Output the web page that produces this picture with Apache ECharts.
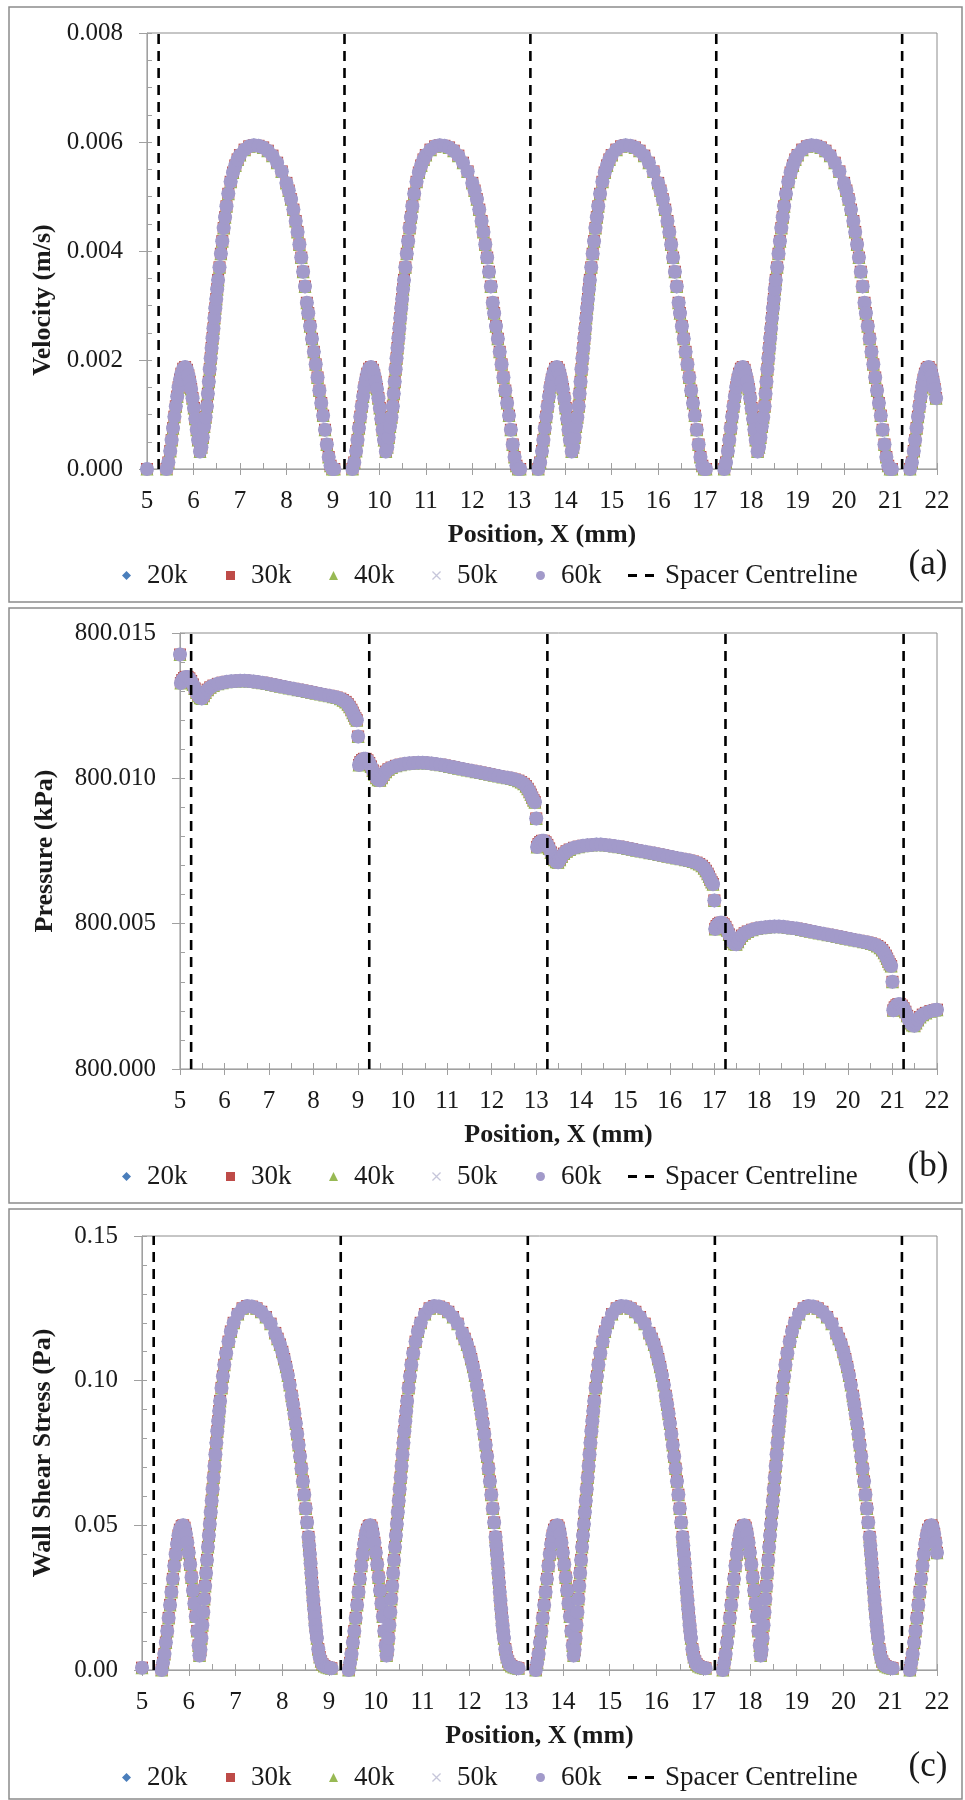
<!DOCTYPE html>
<html>
<head>
<meta charset="utf-8">
<title>Velocity, pressure and wall shear stress along the channel</title>
<script src="https://cdn.jsdelivr.net/npm/echarts/dist/echarts.min.js"></script>
<style>
  html, body { margin: 0; padding: 0; background: #fff; }
  #chart { width: 965px; height: 1800px; }
</style>
</head>
<body>
<div id="chart"></div>
<script>
// mesh resolutions (legend names)
const seriesNames = ['20k', '30k', '40k', '50k', '60k'];
// spacer centreline positions, mm
const spacerX = [5.25, 9.25, 13.25, 17.25, 21.25];
// x axis: min, max, step (mm)
const xTicks = [5, 22, 1];
// y axes: min, max, step
const velocityTicks = [0, 0.008, 0.002];
const pressureTicks = [800, 800.015, 0.005];
const shearTicks = [0, 0.15, 0.05];

// velocity (m/s) against position (mm)
const velocity = [
  [5.00,0],
  [5.42,0],[5.46,0.00012],[5.50,0.00033],[5.53,0.00053],[5.56,0.00075],[5.59,0.00096],[5.62,0.00115],[5.65,0.00133],[5.68,0.0015],[5.71,0.00164],[5.74,0.00175],[5.78,0.00184],[5.82,0.00187],[5.86,0.00182],[5.89,0.00172],[5.92,0.0016],[5.95,0.00147],[5.98,0.0013],[6.01,0.00112],[6.04,0.00092],[6.07,0.00072],[6.10,0.00053],[6.14,0.00032],
  [6.17,0.0004],[6.20,0.00058],[6.23,0.00078],[6.26,0.00095],[6.29,0.00115],[6.31,0.00138],[6.33,0.0016],[6.35,0.00183],[6.37,0.00203],[6.39,0.00222],[6.41,0.0024],[6.43,0.00258],[6.45,0.00277],[6.47,0.00295],[6.49,0.00312],[6.51,0.0033],[6.53,0.00347],[6.56,0.0037],[6.59,0.00395],[6.62,0.00418],[6.65,0.00442],[6.68,0.00462],[6.71,0.00482],[6.75,0.00505],[6.80,0.00527],[6.85,0.00544],[6.90,0.00557],[6.95,0.00568],[7.00,0.00576],
  [7.10,0.00586],[7.20,0.00592],[7.30,0.00594],[7.40,0.00593],[7.50,0.0059],[7.60,0.00584],[7.70,0.00575],[7.80,0.00562],[7.90,0.00546],[8.00,0.00525],
  [8.05,0.00511],[8.10,0.00495],[8.15,0.00476],[8.20,0.00455],[8.24,0.00435],[8.28,0.00412],[8.32,0.00388],[8.36,0.00362],[8.40,0.00335],[8.44,0.00305],[8.47,0.00286],[8.51,0.00262],[8.55,0.00239],[8.59,0.00215],[8.63,0.00192],[8.67,0.00168],[8.71,0.00144],[8.75,0.00121],[8.79,0.00098],[8.83,0.00072],[8.87,0.00045],[8.91,0.00022],[8.95,0.00006],[8.99,0],[9.03,0],
  [9.42,0],[9.46,0.00012],[9.50,0.00033],[9.53,0.00053],[9.56,0.00075],[9.59,0.00096],[9.62,0.00115],[9.65,0.00133],[9.68,0.0015],[9.71,0.00164],[9.74,0.00175],[9.78,0.00184],[9.82,0.00187],[9.86,0.00182],[9.89,0.00172],[9.92,0.0016],[9.95,0.00147],[9.98,0.0013],[10.01,0.00112],[10.04,0.00092],[10.07,0.00072],[10.10,0.00053],[10.14,0.00032],
  [10.17,0.0004],[10.20,0.00058],[10.23,0.00078],[10.26,0.00095],[10.29,0.00115],[10.31,0.00138],[10.33,0.0016],[10.35,0.00183],[10.37,0.00203],[10.39,0.00222],[10.41,0.0024],[10.43,0.00258],[10.45,0.00277],[10.47,0.00295],[10.49,0.00312],[10.51,0.0033],[10.53,0.00347],[10.56,0.0037],[10.59,0.00395],[10.62,0.00418],[10.65,0.00442],[10.68,0.00462],[10.71,0.00482],[10.75,0.00505],[10.80,0.00527],[10.85,0.00544],[10.90,0.00557],[10.95,0.00568],[11.00,0.00576],
  [11.10,0.00586],[11.20,0.00592],[11.30,0.00594],[11.40,0.00593],[11.50,0.0059],[11.60,0.00584],[11.70,0.00575],[11.80,0.00562],[11.90,0.00546],[12.00,0.00525],
  [12.05,0.00511],[12.10,0.00495],[12.15,0.00476],[12.20,0.00455],[12.24,0.00435],[12.28,0.00412],[12.32,0.00388],[12.36,0.00362],[12.40,0.00335],[12.44,0.00305],[12.47,0.00286],[12.51,0.00262],[12.55,0.00239],[12.59,0.00215],[12.63,0.00192],[12.67,0.00168],[12.71,0.00144],[12.75,0.00121],[12.79,0.00098],[12.83,0.00072],[12.87,0.00045],[12.91,0.00022],[12.95,0.00006],[12.99,0],[13.03,0],
  [13.42,0],[13.46,0.00012],[13.50,0.00033],[13.53,0.00053],[13.56,0.00075],[13.59,0.00096],[13.62,0.00115],[13.65,0.00133],[13.68,0.0015],[13.71,0.00164],[13.74,0.00175],[13.78,0.00184],[13.82,0.00187],[13.86,0.00182],[13.89,0.00172],[13.92,0.0016],[13.95,0.00147],[13.98,0.0013],[14.01,0.00112],[14.04,0.00092],[14.07,0.00072],[14.10,0.00053],[14.14,0.00032],
  [14.17,0.0004],[14.20,0.00058],[14.23,0.00078],[14.26,0.00095],[14.29,0.00115],[14.31,0.00138],[14.33,0.0016],[14.35,0.00183],[14.37,0.00203],[14.39,0.00222],[14.41,0.0024],[14.43,0.00258],[14.45,0.00277],[14.47,0.00295],[14.49,0.00312],[14.51,0.0033],[14.53,0.00347],[14.56,0.0037],[14.59,0.00395],[14.62,0.00418],[14.65,0.00442],[14.68,0.00462],[14.71,0.00482],[14.75,0.00505],[14.80,0.00527],[14.85,0.00544],[14.90,0.00557],[14.95,0.00568],[15.00,0.00576],
  [15.10,0.00586],[15.20,0.00592],[15.30,0.00594],[15.40,0.00593],[15.50,0.0059],[15.60,0.00584],[15.70,0.00575],[15.80,0.00562],[15.90,0.00546],[16.00,0.00525],
  [16.05,0.00511],[16.10,0.00495],[16.15,0.00476],[16.20,0.00455],[16.24,0.00435],[16.28,0.00412],[16.32,0.00388],[16.36,0.00362],[16.40,0.00335],[16.44,0.00305],[16.47,0.00286],[16.51,0.00262],[16.55,0.00239],[16.59,0.00215],[16.63,0.00192],[16.67,0.00168],[16.71,0.00144],[16.75,0.00121],[16.79,0.00098],[16.83,0.00072],[16.87,0.00045],[16.91,0.00022],[16.95,0.00006],[16.99,0],[17.03,0],
  [17.42,0],[17.46,0.00012],[17.50,0.00033],[17.53,0.00053],[17.56,0.00075],[17.59,0.00096],[17.62,0.00115],[17.65,0.00133],[17.68,0.0015],[17.71,0.00164],[17.74,0.00175],[17.78,0.00184],[17.82,0.00187],[17.86,0.00182],[17.89,0.00172],[17.92,0.0016],[17.95,0.00147],[17.98,0.0013],[18.01,0.00112],[18.04,0.00092],[18.07,0.00072],[18.10,0.00053],[18.14,0.00032],
  [18.17,0.0004],[18.20,0.00058],[18.23,0.00078],[18.26,0.00095],[18.29,0.00115],[18.31,0.00138],[18.33,0.0016],[18.35,0.00183],[18.37,0.00203],[18.39,0.00222],[18.41,0.0024],[18.43,0.00258],[18.45,0.00277],[18.47,0.00295],[18.49,0.00312],[18.51,0.0033],[18.53,0.00347],[18.56,0.0037],[18.59,0.00395],[18.62,0.00418],[18.65,0.00442],[18.68,0.00462],[18.71,0.00482],[18.75,0.00505],[18.80,0.00527],[18.85,0.00544],[18.90,0.00557],[18.95,0.00568],[19.00,0.00576],
  [19.10,0.00586],[19.20,0.00592],[19.30,0.00594],[19.40,0.00593],[19.50,0.0059],[19.60,0.00584],[19.70,0.00575],[19.80,0.00562],[19.90,0.00546],[20.00,0.00525],
  [20.05,0.00511],[20.10,0.00495],[20.15,0.00476],[20.20,0.00455],[20.24,0.00435],[20.28,0.00412],[20.32,0.00388],[20.36,0.00362],[20.40,0.00335],[20.44,0.00305],[20.47,0.00286],[20.51,0.00262],[20.55,0.00239],[20.59,0.00215],[20.63,0.00192],[20.67,0.00168],[20.71,0.00144],[20.75,0.00121],[20.79,0.00098],[20.83,0.00072],[20.87,0.00045],[20.91,0.00022],[20.95,0.00006],[20.99,0],[21.03,0],
  [21.42,0],[21.46,0.00012],[21.50,0.00033],[21.53,0.00053],[21.56,0.00075],[21.59,0.00096],[21.62,0.00115],[21.65,0.00133],[21.68,0.0015],[21.71,0.00164],[21.74,0.00175],[21.78,0.00184],[21.82,0.00187],[21.86,0.00182],[21.89,0.00172],[21.92,0.0016],[21.95,0.00147],[21.98,0.0013]
];

// pressure (kPa) against position (mm)
const pressure = [
  [5.00,800.01426],[5.02,800.01328],[5.05,800.01338],[5.09,800.01345],[5.13,800.01349],[5.17,800.01349],[5.21,800.01344],[5.25,800.01335],[5.29,800.01323],[5.33,800.01309],[5.37,800.01295],[5.41,800.01284],[5.45,800.01277],[5.49,800.01275],[5.53,800.01284],[5.57,800.01295],[5.62,800.01305],[5.68,800.01313],[5.75,800.01319],[5.85,800.01325],[5.95,800.01329],[6.05,800.01332],[6.15,800.01334],[6.25,800.01335],[6.35,800.01336],[6.45,800.01336],[6.55,800.01335],[6.65,800.01333],[6.75,800.01331],[6.85,800.01329],[6.95,800.01326],[7.05,800.01323],[7.15,800.0132],[7.25,800.01317],[7.35,800.01314],[7.45,800.01311],[7.55,800.01308],[7.65,800.01305],[7.75,800.01302],[7.85,800.01299],[7.95,800.01296],[8.05,800.01293],[8.15,800.0129],[8.25,800.01287],[8.35,800.01284],[8.44,800.01281],[8.52,800.01278],[8.60,800.01274],[8.66,800.01269],[8.72,800.01263],[8.77,800.01255],[8.81,800.01246],[8.85,800.01236],[8.88,800.01226],[8.91,800.01216],[8.94,800.01207],[8.97,800.012],
  [9.00,800.01144],[9.02,800.01046],[9.05,800.01056],[9.09,800.01063],[9.13,800.01067],[9.17,800.01067],[9.21,800.01062],[9.25,800.01053],[9.29,800.01041],[9.33,800.01027],[9.37,800.01013],[9.41,800.01002],[9.45,800.00995],[9.49,800.00993],[9.53,800.01002],[9.57,800.01013],[9.62,800.01023],[9.68,800.01031],[9.75,800.01037],[9.85,800.01043],[9.95,800.01047],[10.05,800.0105],[10.15,800.01052],[10.25,800.01053],[10.35,800.01054],[10.45,800.01054],[10.55,800.01053],[10.65,800.01051],[10.75,800.01049],[10.85,800.01047],[10.95,800.01044],[11.05,800.01041],[11.15,800.01038],[11.25,800.01035],[11.35,800.01032],[11.45,800.01029],[11.55,800.01026],[11.65,800.01023],[11.75,800.0102],[11.85,800.01017],[11.95,800.01014],[12.05,800.01011],[12.15,800.01008],[12.25,800.01005],[12.35,800.01002],[12.44,800.00999],[12.52,800.00996],[12.60,800.00992],[12.66,800.00987],[12.72,800.00981],[12.77,800.00973],[12.81,800.00964],[12.85,800.00954],[12.88,800.00944],[12.91,800.00934],[12.94,800.00925],[12.97,800.00918],
  [13.00,800.00862],[13.02,800.00764],[13.05,800.00774],[13.09,800.00781],[13.13,800.00785],[13.17,800.00785],[13.21,800.0078],[13.25,800.00771],[13.29,800.00759],[13.33,800.00745],[13.37,800.00731],[13.41,800.0072],[13.45,800.00713],[13.49,800.00711],[13.53,800.0072],[13.57,800.00731],[13.62,800.00741],[13.68,800.00749],[13.75,800.00755],[13.85,800.00761],[13.95,800.00765],[14.05,800.00768],[14.15,800.0077],[14.25,800.00771],[14.35,800.00772],[14.45,800.00772],[14.55,800.00771],[14.65,800.00769],[14.75,800.00767],[14.85,800.00765],[14.95,800.00762],[15.05,800.00759],[15.15,800.00756],[15.25,800.00753],[15.35,800.0075],[15.45,800.00747],[15.55,800.00744],[15.65,800.00741],[15.75,800.00738],[15.85,800.00735],[15.95,800.00732],[16.05,800.00729],[16.15,800.00726],[16.25,800.00723],[16.35,800.0072],[16.44,800.00717],[16.52,800.00714],[16.60,800.0071],[16.66,800.00705],[16.72,800.00699],[16.77,800.00691],[16.81,800.00682],[16.85,800.00672],[16.88,800.00662],[16.91,800.00652],[16.94,800.00643],[16.97,800.00636],
  [17.00,800.0058],[17.02,800.00482],[17.05,800.00492],[17.09,800.00499],[17.13,800.00503],[17.17,800.00503],[17.21,800.00498],[17.25,800.00489],[17.29,800.00477],[17.33,800.00463],[17.37,800.00449],[17.41,800.00438],[17.45,800.00431],[17.49,800.00429],[17.53,800.00438],[17.57,800.00449],[17.62,800.00459],[17.68,800.00467],[17.75,800.00473],[17.85,800.00479],[17.95,800.00483],[18.05,800.00486],[18.15,800.00488],[18.25,800.00489],[18.35,800.0049],[18.45,800.0049],[18.55,800.00489],[18.65,800.00487],[18.75,800.00485],[18.85,800.00483],[18.95,800.0048],[19.05,800.00477],[19.15,800.00474],[19.25,800.00471],[19.35,800.00468],[19.45,800.00465],[19.55,800.00462],[19.65,800.00459],[19.75,800.00456],[19.85,800.00453],[19.95,800.0045],[20.05,800.00447],[20.15,800.00444],[20.25,800.00441],[20.35,800.00438],[20.44,800.00435],[20.52,800.00432],[20.60,800.00428],[20.66,800.00423],[20.72,800.00417],[20.77,800.00409],[20.81,800.004],[20.85,800.0039],[20.88,800.0038],[20.91,800.0037],[20.94,800.00361],[20.97,800.00354],
  [21.00,800.003],[21.02,800.00202],[21.05,800.00212],[21.09,800.00219],[21.13,800.00223],[21.17,800.00223],[21.21,800.00218],[21.25,800.00209],[21.29,800.00197],[21.33,800.00183],[21.37,800.00169],[21.41,800.00158],[21.45,800.00151],[21.49,800.00149],[21.53,800.00158],[21.57,800.00169],[21.62,800.00179],[21.68,800.00187],[21.75,800.00193],[21.85,800.00199],[21.95,800.00203],[22.00,800.00204]
];

// wall shear stress (Pa) against position (mm)
const shear = [
  [5.00,0.0008],
  [5.42,0],[5.45,0.0025],[5.48,0.0055],[5.51,0.0095],[5.54,0.0135],[5.57,0.018],[5.60,0.0225],[5.63,0.027],[5.66,0.0315],[5.69,0.036],[5.72,0.04],[5.75,0.0435],[5.78,0.0465],[5.81,0.0485],[5.85,0.0497],[5.88,0.05],
  [5.91,0.0492],[5.94,0.047],[5.97,0.044],[6.00,0.0405],[6.03,0.0365],[6.06,0.032],[6.09,0.0275],[6.12,0.023],[6.15,0.0185],[6.18,0.0135],[6.21,0.0085],[6.23,0.005],
  [6.25,0.007],[6.27,0.011],[6.29,0.0155],[6.31,0.02],[6.33,0.0245],[6.35,0.029],[6.37,0.0335],[6.39,0.038],[6.41,0.0425],[6.43,0.0465],[6.45,0.0505],[6.47,0.0545],[6.49,0.0585],[6.51,0.0625],[6.53,0.0665],[6.55,0.0705],[6.57,0.0745],[6.59,0.0785],[6.61,0.0825],[6.63,0.086],[6.65,0.0895],[6.67,0.093],[6.70,0.0975],[6.73,0.1015],[6.76,0.1055],[6.80,0.1095],[6.85,0.1135],[6.90,0.117],[6.96,0.12],
  [7.05,0.123],[7.15,0.125],[7.25,0.1258],[7.35,0.1256],[7.45,0.125],[7.55,0.1238],[7.65,0.122],[7.75,0.1197],[7.85,0.1165],[7.90,0.1145],[7.95,0.1125],[8.00,0.11],
  [8.04,0.1075],[8.08,0.1048],[8.12,0.1018],[8.16,0.0985],[8.20,0.0948],[8.23,0.0918],[8.26,0.0886],[8.29,0.0852],[8.32,0.0816],[8.35,0.0778],[8.38,0.0738],[8.41,0.0696],[8.44,0.0652],[8.47,0.0606],[8.50,0.0558],[8.53,0.051],[8.56,0.046],[8.575,0.043],[8.59,0.04],[8.605,0.0368],[8.62,0.0335],[8.635,0.0302],[8.65,0.027],[8.665,0.024],[8.68,0.021],[8.695,0.0182],[8.71,0.0155],[8.725,0.0132],[8.74,0.011],[8.77,0.0072],[8.80,0.0045],[8.83,0.003],[8.86,0.002],[8.90,0.0014],[8.95,0.001],[9.00,0.0008],[9.05,0.0006],
  [9.42,0],[9.45,0.0025],[9.48,0.0055],[9.51,0.0095],[9.54,0.0135],[9.57,0.018],[9.60,0.0225],[9.63,0.027],[9.66,0.0315],[9.69,0.036],[9.72,0.04],[9.75,0.0435],[9.78,0.0465],[9.81,0.0485],[9.85,0.0497],[9.88,0.05],
  [9.91,0.0492],[9.94,0.047],[9.97,0.044],[10.00,0.0405],[10.03,0.0365],[10.06,0.032],[10.09,0.0275],[10.12,0.023],[10.15,0.0185],[10.18,0.0135],[10.21,0.0085],[10.23,0.005],
  [10.25,0.007],[10.27,0.011],[10.29,0.0155],[10.31,0.02],[10.33,0.0245],[10.35,0.029],[10.37,0.0335],[10.39,0.038],[10.41,0.0425],[10.43,0.0465],[10.45,0.0505],[10.47,0.0545],[10.49,0.0585],[10.51,0.0625],[10.53,0.0665],[10.55,0.0705],[10.57,0.0745],[10.59,0.0785],[10.61,0.0825],[10.63,0.086],[10.65,0.0895],[10.67,0.093],[10.70,0.0975],[10.73,0.1015],[10.76,0.1055],[10.80,0.1095],[10.85,0.1135],[10.90,0.117],[10.96,0.12],
  [11.05,0.123],[11.15,0.125],[11.25,0.1258],[11.35,0.1256],[11.45,0.125],[11.55,0.1238],[11.65,0.122],[11.75,0.1197],[11.85,0.1165],[11.90,0.1145],[11.95,0.1125],[12.00,0.11],
  [12.04,0.1075],[12.08,0.1048],[12.12,0.1018],[12.16,0.0985],[12.20,0.0948],[12.23,0.0918],[12.26,0.0886],[12.29,0.0852],[12.32,0.0816],[12.35,0.0778],[12.38,0.0738],[12.41,0.0696],[12.44,0.0652],[12.47,0.0606],[12.50,0.0558],[12.53,0.051],[12.56,0.046],[12.575,0.043],[12.59,0.04],[12.605,0.0368],[12.62,0.0335],[12.635,0.0302],[12.65,0.027],[12.665,0.024],[12.68,0.021],[12.695,0.0182],[12.71,0.0155],[12.725,0.0132],[12.74,0.011],[12.77,0.0072],[12.80,0.0045],[12.83,0.003],[12.86,0.002],[12.90,0.0014],[12.95,0.001],[13.00,0.0008],[13.05,0.0006],
  [13.42,0],[13.45,0.0025],[13.48,0.0055],[13.51,0.0095],[13.54,0.0135],[13.57,0.018],[13.60,0.0225],[13.63,0.027],[13.66,0.0315],[13.69,0.036],[13.72,0.04],[13.75,0.0435],[13.78,0.0465],[13.81,0.0485],[13.85,0.0497],[13.88,0.05],
  [13.91,0.0492],[13.94,0.047],[13.97,0.044],[14.00,0.0405],[14.03,0.0365],[14.06,0.032],[14.09,0.0275],[14.12,0.023],[14.15,0.0185],[14.18,0.0135],[14.21,0.0085],[14.23,0.005],
  [14.25,0.007],[14.27,0.011],[14.29,0.0155],[14.31,0.02],[14.33,0.0245],[14.35,0.029],[14.37,0.0335],[14.39,0.038],[14.41,0.0425],[14.43,0.0465],[14.45,0.0505],[14.47,0.0545],[14.49,0.0585],[14.51,0.0625],[14.53,0.0665],[14.55,0.0705],[14.57,0.0745],[14.59,0.0785],[14.61,0.0825],[14.63,0.086],[14.65,0.0895],[14.67,0.093],[14.70,0.0975],[14.73,0.1015],[14.76,0.1055],[14.80,0.1095],[14.85,0.1135],[14.90,0.117],[14.96,0.12],
  [15.05,0.123],[15.15,0.125],[15.25,0.1258],[15.35,0.1256],[15.45,0.125],[15.55,0.1238],[15.65,0.122],[15.75,0.1197],[15.85,0.1165],[15.90,0.1145],[15.95,0.1125],[16.00,0.11],
  [16.04,0.1075],[16.08,0.1048],[16.12,0.1018],[16.16,0.0985],[16.20,0.0948],[16.23,0.0918],[16.26,0.0886],[16.29,0.0852],[16.32,0.0816],[16.35,0.0778],[16.38,0.0738],[16.41,0.0696],[16.44,0.0652],[16.47,0.0606],[16.50,0.0558],[16.53,0.051],[16.56,0.046],[16.575,0.043],[16.59,0.04],[16.605,0.0368],[16.62,0.0335],[16.635,0.0302],[16.65,0.027],[16.665,0.024],[16.68,0.021],[16.695,0.0182],[16.71,0.0155],[16.725,0.0132],[16.74,0.011],[16.77,0.0072],[16.80,0.0045],[16.83,0.003],[16.86,0.002],[16.90,0.0014],[16.95,0.001],[17.00,0.0008],[17.05,0.0006],
  [17.42,0],[17.45,0.0025],[17.48,0.0055],[17.51,0.0095],[17.54,0.0135],[17.57,0.018],[17.60,0.0225],[17.63,0.027],[17.66,0.0315],[17.69,0.036],[17.72,0.04],[17.75,0.0435],[17.78,0.0465],[17.81,0.0485],[17.85,0.0497],[17.88,0.05],
  [17.91,0.0492],[17.94,0.047],[17.97,0.044],[18.00,0.0405],[18.03,0.0365],[18.06,0.032],[18.09,0.0275],[18.12,0.023],[18.15,0.0185],[18.18,0.0135],[18.21,0.0085],[18.23,0.005],
  [18.25,0.007],[18.27,0.011],[18.29,0.0155],[18.31,0.02],[18.33,0.0245],[18.35,0.029],[18.37,0.0335],[18.39,0.038],[18.41,0.0425],[18.43,0.0465],[18.45,0.0505],[18.47,0.0545],[18.49,0.0585],[18.51,0.0625],[18.53,0.0665],[18.55,0.0705],[18.57,0.0745],[18.59,0.0785],[18.61,0.0825],[18.63,0.086],[18.65,0.0895],[18.67,0.093],[18.70,0.0975],[18.73,0.1015],[18.76,0.1055],[18.80,0.1095],[18.85,0.1135],[18.90,0.117],[18.96,0.12],
  [19.05,0.123],[19.15,0.125],[19.25,0.1258],[19.35,0.1256],[19.45,0.125],[19.55,0.1238],[19.65,0.122],[19.75,0.1197],[19.85,0.1165],[19.90,0.1145],[19.95,0.1125],[20.00,0.11],
  [20.04,0.1075],[20.08,0.1048],[20.12,0.1018],[20.16,0.0985],[20.20,0.0948],[20.23,0.0918],[20.26,0.0886],[20.29,0.0852],[20.32,0.0816],[20.35,0.0778],[20.38,0.0738],[20.41,0.0696],[20.44,0.0652],[20.47,0.0606],[20.50,0.0558],[20.53,0.051],[20.56,0.046],[20.575,0.043],[20.59,0.04],[20.605,0.0368],[20.62,0.0335],[20.635,0.0302],[20.65,0.027],[20.665,0.024],[20.68,0.021],[20.695,0.0182],[20.71,0.0155],[20.725,0.0132],[20.74,0.011],[20.77,0.0072],[20.80,0.0045],[20.83,0.003],[20.86,0.002],[20.90,0.0014],[20.95,0.001],[21.00,0.0008],[21.05,0.0006],
  [21.42,0],[21.45,0.0025],[21.48,0.0055],[21.51,0.0095],[21.54,0.0135],[21.57,0.018],[21.60,0.0225],[21.63,0.027],[21.66,0.0315],[21.69,0.036],[21.72,0.04],[21.75,0.0435],[21.78,0.0465],[21.81,0.0485],[21.85,0.0497],[21.88,0.05],
  [21.91,0.0492],[21.94,0.047],[21.97,0.044],[22.00,0.0405]
];

const FONT = "'Liberation Serif', 'Times New Roman', serif";
const TEXT = '#1a1a1a';
const AXIS_GREY = '#a0a0a0';

const markerColors = ['#4a7ebb', '#be4b48', '#98b954', '#c6c6da', '#a29aca'];
const markerShapes = ['diamond', 'rect', 'triangle',
  'path://M1,0L5,4L9,0L10,1L6,5L10,9L9,10L5,6L1,10L0,9L4,5L0,1Z', 'circle'];
const markerSizes = [14, 12, 13, 11, 14];

const panels = [
  { pts: velocity, ticks: velocityTicks, minor: 4, digits: 3, name: 'Velocity (m/s)',
    grid: { left: 147, top: 33, width: 790, height: 436 }, nameGap: 91, nameShift: 49,
    frame: 7, legendTop: 562, tag: '(a)', tagY: 565 },
  { pts: pressure, ticks: pressureTicks, minor: 5, digits: 3, name: 'Pressure (kPa)',
    grid: { left: 180, top: 633, width: 757, height: 436 }, nameGap: 122, nameShift: 0,
    frame: 608, legendTop: 1163, tag: '(b)', tagY: 1167 },
  { pts: shear, ticks: shearTicks, minor: 5, digits: 2, name: 'Wall Shear Stress (Pa)',
    grid: { left: 142, top: 1236, width: 795, height: 434 }, nameGap: 86, nameShift: 0,
    frame: 1209, legendTop: 1764, tag: '(c)', tagY: 1767 }
];

const legendLefts = [122, 226, 329, 432, 536];

const option = {
  animation: false,
  backgroundColor: '#ffffff',
  grid: [], xAxis: [], yAxis: [], series: [], legend: [], graphic: []
};

panels.forEach((p, i) => {
  option.grid.push({
    left: p.grid.left, top: p.grid.top, width: p.grid.width, height: p.grid.height,
    show: true, borderColor: '#8c8c8c', borderWidth: 1, backgroundColor: 'transparent',
    containLabel: false, outerBoundsMode: 'none'
  });

  const tickLine = { color: AXIS_GREY, width: 1 };
  // main x axis: labels, outside half of the major ticks, title
  option.xAxis.push({
    gridIndex: i, type: 'value', position: 'bottom',
    min: xTicks[0], max: xTicks[1], interval: xTicks[2],
    axisLine: { show: true, onZero: false, lineStyle: { color: AXIS_GREY, width: 1 } },
    axisTick: { show: true, inside: false, length: 6, lineStyle: tickLine },
    axisLabel: { show: true, margin: 20, fontFamily: FONT, fontSize: 25, color: TEXT,
      showMinLabel: true, showMaxLabel: true },
    splitLine: { show: false },
    name: 'Position, X (mm)', nameLocation: 'middle', nameGap: 53, nameMoveOverlap: false,
    nameTextStyle: { fontFamily: FONT, fontSize: 26, fontWeight: 'bold', color: TEXT }
  });
  // overlay x axis: inside half of major ticks + minor ticks
  option.xAxis.push({
    gridIndex: i, type: 'value', position: 'bottom',
    min: xTicks[0], max: xTicks[1], interval: xTicks[2],
    axisLine: { show: false, onZero: false },
    axisTick: { show: true, inside: true, length: 6, lineStyle: tickLine },
    minorTick: { show: true, splitNumber: 2, length: 6, lineStyle: tickLine },
    axisLabel: { show: false }, splitLine: { show: false }, minorSplitLine: { show: false }
  });

  option.yAxis.push({
    gridIndex: i, type: 'value', position: 'left',
    min: p.ticks[0], max: p.ticks[1], interval: p.ticks[2],
    axisLine: { show: true, onZero: false, lineStyle: { color: AXIS_GREY, width: 1 } },
    axisTick: { show: true, inside: false, length: 8, lineStyle: tickLine },
    axisLabel: { show: true, margin: 24, fontFamily: FONT, fontSize: 25, color: TEXT,
      formatter: v => v.toFixed(p.digits) },
    splitLine: { show: false },
    name: p.name, nameLocation: 'middle', nameGap: p.nameGap, nameRotate: 90, nameMoveOverlap: false,
    nameTextStyle: { fontFamily: FONT, fontSize: 26, fontWeight: 'bold', color: TEXT,
      padding: [0, 2 * p.nameShift, 0, 0] }
  });
  option.yAxis.push({
    gridIndex: i, type: 'value', position: 'left',
    min: p.ticks[0], max: p.ticks[1], interval: p.ticks[2],
    axisLine: { show: false, onZero: false },
    axisTick: { show: true, inside: true, length: 5, lineStyle: tickLine },
    minorTick: { show: true, splitNumber: p.minor, length: 5, lineStyle: tickLine },
    axisLabel: { show: false }, splitLine: { show: false }, minorSplitLine: { show: false }
  });

  seriesNames.forEach((name, k) => {
    option.series.push({
      name, type: 'scatter', xAxisIndex: 2 * i, yAxisIndex: 2 * i,
      symbol: markerShapes[k], symbolSize: markerSizes[k],
      itemStyle: { color: markerColors[k], opacity: 1 },
      data: p.pts, clip: false, silent: true, z: 2
    });
  });

  const spacerData = [];
  spacerX.forEach(x => {
    spacerData.push([x, p.ticks[0]], [x, p.ticks[1]], ['-', '-']);
  });
  option.series.push({
    name: 'Spacer Centreline', type: 'line', xAxisIndex: 2 * i, yAxisIndex: 2 * i,
    data: spacerData, symbol: 'none', connectNulls: false, silent: true, z: 4,
    itemStyle: { color: '#000' },
    lineStyle: { color: '#000', width: 2.6, type: [10, 7] }
  });

  seriesNames.forEach((name, k) => {
    option.legend.push({
      left: legendLefts[k], top: p.legendTop, padding: 0, selectedMode: false,
      orient: 'horizontal', itemWidth: 9, itemHeight: 9,
      data: [{ name, icon: markerShapes[k] }],
      textStyle: { fontFamily: FONT, fontSize: 27, color: TEXT, padding: [0, 0, 0, 11] }
    });
  });
  option.legend.push({
    left: 628, top: p.legendTop, padding: 0, selectedMode: false,
    itemWidth: 26, itemHeight: 3,
    data: [{ name: 'Spacer Centreline', icon: 'path://M0,0L9,0L9,3L0,3Z M17,0L26,0L26,3L17,3Z' }],
    textStyle: { fontFamily: FONT, fontSize: 27, color: TEXT, padding: [0, 0, 0, 6] }
  });

  option.graphic.push({
    type: 'rect', silent: true,
    shape: { x: 9, y: p.frame, width: 953, height: i === 2 ? 590 : 595 },
    style: { fill: 'none', stroke: '#8c8c8c', lineWidth: 1.5 }
  });
  option.graphic.push({
    type: 'text', silent: true, x: 928, y: p.tagY,
    style: { text: p.tag, fontFamily: FONT, fontSize: 35, fill: TEXT,
      align: 'center', verticalAlign: 'middle' }
  });
});

const chart = echarts.init(document.getElementById('chart'), null, { renderer: 'canvas' });
chart.setOption(option);
</script>
</body>
</html>
